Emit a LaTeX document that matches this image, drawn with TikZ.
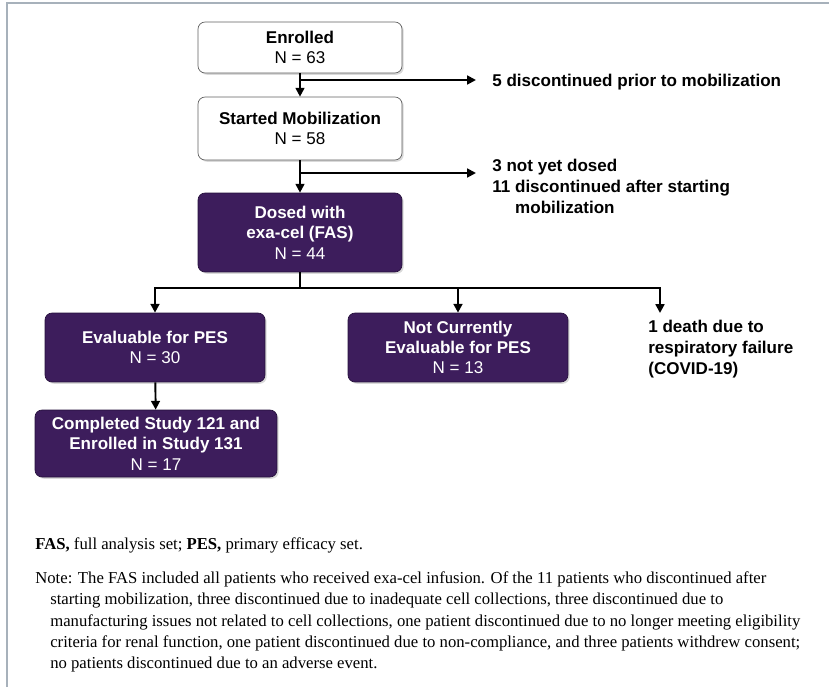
\documentclass[tikz,border=0pt]{standalone}
\usepackage{fontspec}
\setmainfont{Liberation Serif}
\newfontfamily\chartfont{Liberation Sans}
\usepackage{xcolor}
\usepackage{tikz}
\usetikzlibrary{arrows.meta,shadows}

\definecolor{boxpurple}{HTML}{3D1D5C}
\definecolor{edgepurple}{HTML}{26103C}
\definecolor{framegray}{HTML}{A7B1BB}

\tikzset{
  whitebox/.style={draw=gray!75!black, fill=white, rounded corners=4pt, align=center, inner sep=0pt,
    font=\chartfont\bfseries\fontsize{9.7}{11.6}\selectfont,
    drop shadow={opacity=0.3, shadow xshift=1pt, shadow yshift=-1pt}},
  purplebox/.style={whitebox, draw=edgepurple, fill=boxpurple, text=white},
  sidetext/.style={align=left, inner sep=0pt, anchor=west, font=\chartfont\bfseries\fontsize{9.7}{11.9}\selectfont},
  flow/.style={black, line width=1.1pt},
  fork/.style={black, line width=1.5pt},
  >={Triangle[length=5pt,width=5pt]}
}
\newcommand{\countN}[1]{\mdseries N = #1}

\begin{document}
\begin{tikzpicture}[x=0.02cm,y=-0.02cm]

\useasboundingbox (0,0) rectangle (829,687);
\draw[framegray, line width=1pt] (7,687) -- (7,3) -- (829,3);

% boxes
\node[whitebox, minimum width=4.08cm, minimum height=1.02cm] (enrolled) at (300,47.5) {Enrolled\\\countN{63}};
\node[whitebox, minimum width=4.08cm, minimum height=1.26cm] (started) at (300,128.5) {Started Mobilization\\\countN{58}};
\node[purplebox, minimum width=4.08cm, minimum height=1.58cm] (dosed) at (300,232.5) {Dosed with\\exa-cel (FAS)\\\countN{44}};
\node[purplebox, minimum width=4.4cm, minimum height=1.38cm] (evaluable) at (155,347.5) {Evaluable for PES\\\countN{30}};
\node[purplebox, minimum width=4.4cm, minimum height=1.38cm] (notcurrent) at (458,347.5) {Not Currently\\Evaluable for PES\\\countN{13}};
\node[purplebox, minimum width=4.84cm, minimum height=1.34cm] (completed) at (156,443.5) {Completed Study 121 and\\Enrolled in Study 131\\\countN{17}};

% side texts
\node[sidetext] (disc1) at (492,82) {5 discontinued prior to mobilization};
\node[sidetext] (disc2) at (492,186) {3 not yet dosed\\11 discontinued after starting\\\hspace*{13pt}mobilization};
\node[sidetext] (death) at (648,349) {1 death due to\\respiratory failure\\(COVID-19)};

\coordinate (split1) at (300,80);
\coordinate (tip1) at (476,80);
\coordinate (split2) at (300,173);
\coordinate (tip2) at (476,173);
\coordinate (fork) at (300,288);
\coordinate (forkL) at (155,288);
\coordinate (forkM) at (458,288);
\coordinate (forkR) at (660,288);
\coordinate (deathtip) at (660,313);

\draw[flow,->] (enrolled) -- (started);
\draw[flow,->] (split1) -- (tip1);
\draw[flow,->] (started) -- (dosed);
\draw[flow,->] (split2) -- (tip2);
\draw[fork] (dosed) -- (fork);
\draw[fork, line cap=rect] (forkL) -- (forkR);
\draw[fork,->] (forkL) -- (evaluable);
\draw[fork,->] (forkM) -- (notcurrent);
\draw[fork,->] (forkR) -- (deathtip);
\draw[flow,->] (evaluable) -- (completed);

% notes
\node[anchor=west, inner sep=0pt, font=\fontsize{9.5}{12.2}\selectfont] (abbrev) at (35,545)
  {\textbf{FAS,} full analysis set; \textbf{PES,} primary efficacy set.};
\node[anchor=west, align=left, inner sep=0pt, font=\fontsize{9.5}{12.2}\selectfont] (note) at (35,622)
  {Note: The FAS included all patients who received exa-cel infusion. Of the 11 patients who discontinued after\\
  \hspace*{8.5pt}starting mobilization, three discontinued due to inadequate cell collections, three discontinued due to\\
  \hspace*{8.5pt}manufacturing issues not related to cell collections, one patient discontinued due to no longer meeting eligibility\\
  \hspace*{8.5pt}criteria for renal function, one patient discontinued due to non-compliance, and three patients withdrew consent;\\
  \hspace*{8.5pt}no patients discontinued due to an adverse event.};

\end{tikzpicture}
\end{document}
